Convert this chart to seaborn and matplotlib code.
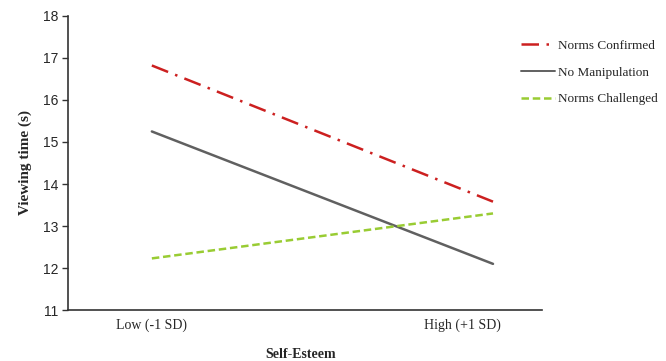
import matplotlib
matplotlib.use("Agg")
import matplotlib.pyplot as plt
import seaborn as sns
import pandas as pd

levels = ["Low (-1 SD)", "High (+1 SD)"]
conditions = ["Norms Confirmed", "No Manipulation", "Norms Challenged"]
norms_confirmed = [16.82, 13.58]
no_manipulation = [15.25, 12.10]
norms_challenged = [12.23, 13.30]
y_ticks = [11, 12, 13, 14, 15, 16, 17, 18]

values = {"Norms Confirmed": norms_confirmed,
          "No Manipulation": no_manipulation,
          "Norms Challenged": norms_challenged}
rows = []
for c in conditions:
    for i, lv in enumerate(levels):
        rows.append({"x": i, "level": lv, "cond": c, "y": values[c][i]})
df = pd.DataFrame(rows)

sns.set_style("ticks")
plt.rcParams["font.family"] = ["Liberation Serif", "DejaVu Serif"]

fig = plt.figure(figsize=(6.66, 3.61), dpi=100)
ax = fig.add_axes([0.102, 0.141, 0.712, 0.815])

palette = {"Norms Confirmed": "#cc2020", "No Manipulation": "#606060",
           "Norms Challenged": "#99cc33"}
dashes = {"Norms Confirmed": (7, 3, 1, 3), "No Manipulation": "",
          "Norms Challenged": (3, 1.5)}
sns.lineplot(data=df, x="x", y="y", hue="cond", style="cond",
             hue_order=conditions, style_order=conditions,
             palette=palette, dashes=dashes, linewidth=1.8, ax=ax,
             legend=True)
for ln in ax.lines:
    if ln.get_label() == "No Manipulation":
        ln.set_linewidth(1.4)

ax.set_xlim(-0.246, 1.144)
ax.set_ylim(11, 18)
ax.set_yticks(y_ticks)
ax.set_yticklabels([str(t) for t in y_ticks], family="Liberation Sans", fontsize=10)
ax.set_xticks([0, 0.91])
ax.set_xticklabels(levels, fontsize=10)
ax.tick_params(axis="x", length=0, pad=6)
ax.tick_params(axis="y", length=4, width=1, color="#333333", pad=3)
for s in ["top", "right"]:
    ax.spines[s].set_visible(False)
for s in ["left", "bottom"]:
    ax.spines[s].set_color("#333333")
    ax.spines[s].set_linewidth(1.2)

ax.set_xlabel("Self-Esteem", fontweight="bold", fontsize=10)
ax.set_ylabel("Viewing time (s)", fontweight="bold", fontsize=11)
ax.xaxis.set_label_coords(0.49, -0.13)
ax.yaxis.set_label_coords(-0.075, 0.5)

leg = ax.legend(loc="upper left", bbox_to_anchor=(0.93, 0.96), frameon=False,
                fontsize=9.5, handlelength=2.6, handletextpad=0.2,
                labelspacing=1.1)

fig.savefig("out.png", dpi=100)
